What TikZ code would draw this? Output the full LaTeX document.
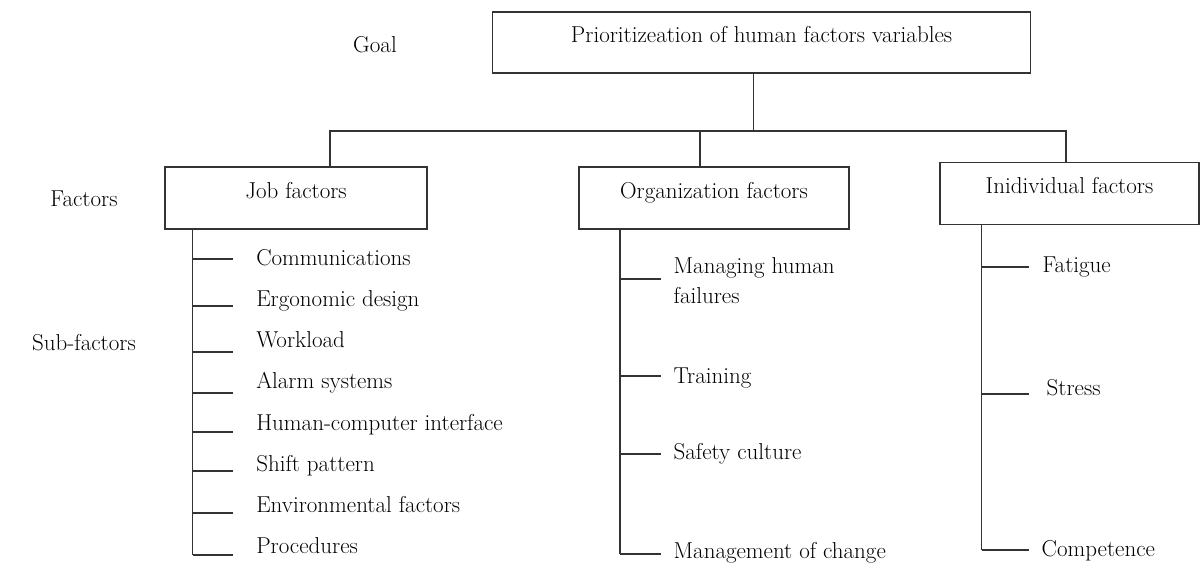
\documentclass[tikz,border=0pt]{standalone}
\usepackage{tikz}

\tikzset{
    factorbox/.style={draw=black!80, inner sep=0pt, text height=14pt, text depth=14pt},
    subitem/.style={anchor=west, inner sep=0pt, align=left, text height=15pt, text depth=5pt},
    link/.style={draw=black!80},
}

\begin{document}
\begin{tikzpicture}[x=1pt, y=-1pt, line width=1.3pt, font=\fontsize{23}{30}\selectfont]
    \useasboundingbox (0,0) rectangle (1200,563);
    \node (goallabel) at (375,45) {Goal};
    \node (factorslabel) at (84,199) {Factors};
    \node (sublabel) at (84,343) {Sub-factors};
    \node[factorbox, minimum width=538pt, minimum height=61pt] (goal) at (761.5,42.5) {Prioritizeation of human factors variables};
    \node[factorbox, minimum width=262pt, minimum height=62pt] (job) at (296,198) {Job factors};
    \node[factorbox, minimum width=270pt, minimum height=62pt] (org) at (714,198) {Organization factors};
    \node[factorbox, minimum width=259pt, minimum height=61.5pt] (ind) at (1069.5,193.5) {Inidividual factors};
    \coordinate (split) at (753.5,131);
    \coordinate (jobdrop) at (330,131);
    \coordinate (orgdrop) at (700,131);
    \coordinate (inddrop) at (1066,131);
    \draw[link] (goal.south -| split) -- (split);
    \draw[link] (job.north -| jobdrop) -- (jobdrop) -- (inddrop) -- (ind.north -| inddrop);
    \draw[link] (orgdrop) -- (org.north -| orgdrop);
    \foreach \t/\y/\name [count=\i] in {259/260/Communications, 306/301/Ergonomic design,
        352/342/Workload, 393/383/Alarm systems, 432/425/Human-computer interface,
        471/466/Shift pattern, 513/507/Environmental factors, 555/548/Procedures} {
        \coordinate (ja\i) at (192.5,\t);
        \coordinate (jb\i) at (233,\t);
        \draw[link] (ja\i) -- (jb\i);
        \node[subitem] (j\i) at (255.6,\y) {\name};
    }
    \draw[link] (job.south -| ja1) -- (ja8);
    \foreach \t/\y/\name [count=\i] in {279/298/{Managing human\\failures}, 376/378/Training,
        454/454/Safety culture, 554/553/Management of change} {
        \coordinate (oa\i) at (620,\t);
        \coordinate (ob\i) at (660.5,\t);
        \draw[link] (oa\i) -- (ob\i);
        \node[subitem] (o\i) at (673,\y) {\name};
    }
    \draw[link] (org.south -| oa1) -- (oa4);
    \foreach \t/\x/\y/\name [count=\i] in {267/1042/267/Fatigue, 394/1046/390/Stress,
        550/1041/551/Competence} {
        \coordinate (ia\i) at (981.5,\t);
        \coordinate (ib\i) at (1029,\t);
        \draw[link] (ia\i) -- (ib\i);
        \node[subitem] (i\i) at (\x,\y) {\name};
    }
    \draw[link] (ind.south -| ia1) -- (ia3);
\end{tikzpicture}
\end{document}
